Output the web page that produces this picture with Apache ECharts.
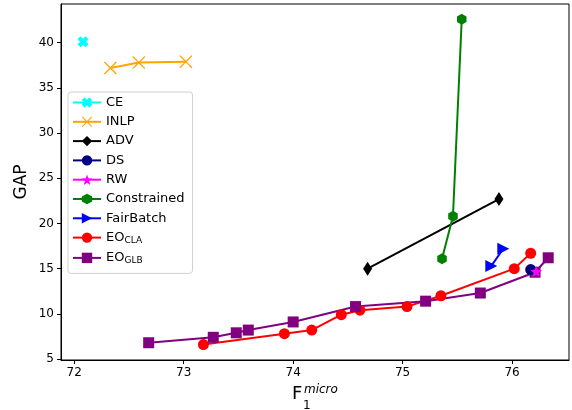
<!DOCTYPE html>
<html><head><meta charset="utf-8">
<script src="https://cdn.jsdelivr.net/npm/echarts@6/dist/echarts.min.js"></script>
<style>html,body{margin:0;padding:0;background:#fff}#c{width:572px;height:410px}</style>
</head><body><div id="c"></div>
<script>
const seriesNames = ['CE','INLP','ADV','DS','RW','Constrained','FairBatch','EO_CLA','EO_GLB'];
const ceData = [[72.08, 40.1]];
const inlpData = [[72.33, 37.2],[72.59, 37.8],[73.02, 37.9]];
const advData = [[74.68, 15.0],[75.88, 22.7]];
const dsData = [[76.17, 14.9]];
const rwData = [[76.22, 14.7]];
const constrainedData = [[75.36, 16.1],[75.46, 20.8],[75.54, 42.6]];
const fairBatchData = [[75.81, 15.3],[75.92, 17.2]];
const eoClaData = [[73.18, 6.6],[73.92, 7.8],[74.17, 8.2],[74.44, 9.9],[74.61, 10.4],[75.04, 10.8],[75.35, 12.0],[76.02, 15.0],[76.17, 16.7]];
const eoGlbData = [[72.68, 6.8],[73.27, 7.4],[73.48, 7.9],[73.59, 8.2],[74.00, 9.1],[74.57, 10.8],[75.21, 11.4],[75.71, 12.3],[76.21, 14.6],[76.33, 16.2]];
const xTicks = [72, 73, 74, 75, 76];
const yTicks = [5, 10, 15, 20, 25, 30, 35, 40];

function xPath(d){
  const p=[[d,0],[1,1-d],[2-d,0],[2,d],[1+d,1],[2,2-d],[2-d,2],[1,1+d],[d,2],[0,2-d],[1-d,1],[0,d]];
  return 'path://M'+p.map(q=>q[0].toFixed(3)+','+q[1].toFixed(3)).join('L')+'Z';
}
const thickX = xPath(0.55);
const thinX = xPath(0.14);
const hexPath = 'path://M1,0L1.866,0.5L1.866,1.5L1,2L0.134,1.5L0.134,0.5Z';
function starPath(){
  const pts=[];
  for(let i=0;i<10;i++){
    const r = i%2===0 ? 1 : 0.42;
    const a = -Math.PI/2 + i*Math.PI/5;
    pts.push([(1+r*Math.cos(a)).toFixed(3),(1+r*Math.sin(a)).toFixed(3)]);
  }
  return 'path://M'+pts.map(q=>q.join(',')).join('L')+'Z';
}
const star = starPath();

const chart = echarts.init(document.getElementById('c'), null, {renderer:'canvas'});
const font = 'DejaVu Sans';
function mk(name, data, color, symbol, size, extra){
  return Object.assign({
    name, type:'line', data, color,
    symbol, symbolSize:size, symbolKeepAspect:true,
    lineStyle:{width:2, color}, itemStyle:{color},
    emphasis:{disabled:true}, animation:false
  }, extra||{});
}
chart.setOption({
  animation:false,
  textStyle:{fontFamily:font},
  grid:{left:61,right:3,top:4,bottom:50,show:true,borderColor:'#000',borderWidth:1,backgroundColor:'transparent'},
  xAxis:{type:'value',min:71.879,max:76.52,
    axisLine:{show:true,lineStyle:{color:'#000'}},
    axisTick:{show:true,length:4,customValues:xTicks,lineStyle:{color:'#000'}},
    axisLabel:{customValues:xTicks,color:'#000',fontSize:12,fontFamily:font,margin:7},
    splitLine:{show:false}},
  yAxis:{type:'value',min:4.89,max:44.28,
    axisLine:{show:true,lineStyle:{color:'#000'}},
    axisTick:{show:true,length:4,customValues:yTicks,lineStyle:{color:'#000'}},
    axisLabel:{customValues:yTicks,color:'#000',fontSize:12,fontFamily:font,margin:7},
    splitLine:{show:false}},
  legend:{orient:'vertical',left:68,top:92,data:seriesNames,
    itemWidth:28,itemHeight:13,itemGap:6.3,
    backgroundColor:'#fff',borderColor:'#d0d0d0',borderWidth:1,borderRadius:3,
    padding:[4,8,8,4],
    textStyle:{fontSize:13,color:'#000',fontFamily:font,
      rich:{n:{fontSize:13,color:'#000',fontFamily:font},s:{fontSize:9,color:'#000',fontFamily:font,padding:[6,0,0,0]}}},
    formatter:function(n){
      if(n==='EO_CLA') return '{n|EO}{s|CLA}';
      if(n==='EO_GLB') return '{n|EO}{s|GLB}';
      return n;
    }},
  graphic:[
    {type:'text',x:22,y:182,rotation:Math.PI/2,style:{text:'GAP',fontSize:17,fontFamily:font,fill:'#000',align:'center',verticalAlign:'middle'}},
    {type:'text',left:292,top:385,style:{text:'F',fontSize:18,fontFamily:font,fill:'#000'}},
    {type:'text',left:304,top:384,style:{text:'micro',fontSize:12,fontStyle:'italic',fontFamily:font,fill:'#000'}},
    {type:'text',left:303,top:400,style:{text:'1',fontSize:12,fontFamily:font,fill:'#000'}}
  ],
  series:[
    mk('CE', ceData, '#00FFFF', thickX, 11),
    mk('INLP', inlpData, '#FFA500', thinX, 13),
    mk('ADV', advData, '#000000', 'diamond', [9,14]),
    mk('DS', dsData, '#000080', 'circle', 11, {z:5}),
    mk('RW', rwData, '#FF00FF', star, 12, {z:6}),
    mk('Constrained', constrainedData, '#008000', hexPath, 11),
    mk('FairBatch', fairBatchData, '#0000FF', 'triangle', 12, {symbolRotate:-90}),
    mk('EO_CLA', eoClaData, '#FF0000', 'circle', 11),
    mk('EO_GLB', eoGlbData, '#800080', 'rect', 11)
  ]
});
</script></body></html>
